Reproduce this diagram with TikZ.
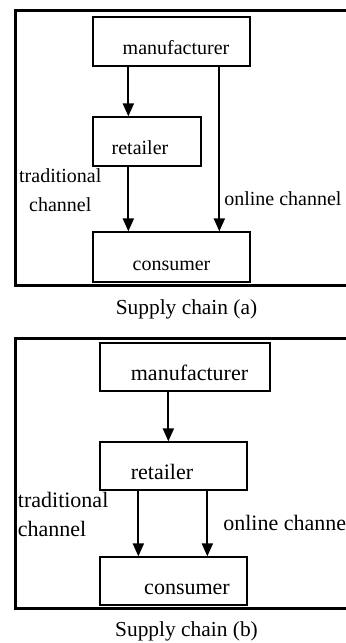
\documentclass[tikz,border=0pt]{standalone}
\usepackage{fontspec}
\setmainfont{Liberation Serif}
\usetikzlibrary{arrows.meta,positioning}
\begin{document}
\begin{tikzpicture}[x=0.5pt,y=-0.5pt,
                every node/.style = {inner sep=0pt},
                main/.style = {draw, rectangle, line width=0.65pt, text height=13pt, text depth=0pt},
                arr/.style = {line width=1pt, -{Triangle[length=6.5pt,width=5.5pt]}},
                frame/.style = {draw, line width=1.5pt}]
                \useasboundingbox (0,0) rectangle (346,643);
                % supply chain (a)
                \begin{scope}[font=\fontsize{10}{14.5}\selectfont]
                \draw[frame] (15,10) rectangle (352,285);
                \node[main, minimum width=78.5pt, minimum height=24.5pt] (a1) at (171.5,41.5) {\hspace*{4.5pt}manufacturer};
                \node[main, minimum width=54pt, minimum height=24.5pt] (a2) at (147,141.5) {retailer\hspace*{7pt}};
                \node[main, minimum width=78.5pt, minimum height=25pt] (a3) at (171.5,257) {consumer};
                \path[arr]
                    ([xshift=18pt]a1.south west) edge ([xshift=18pt]a2.north west)
                    ([xshift=18pt]a2.south west) edge node [left=13pt, pos=0.37, align=center] {traditional\\channel} ([xshift=18pt]a3.north west)
                    ([xshift=63.5pt]a1.south west) edge node [right=2pt, pos=0.8] {online channel} ([xshift=63.5pt]a3.north west);
                \end{scope}
                \node[font=\fontsize{10.7}{13}\selectfont] (capa) at (186.5,309.5) {Supply chain (a)};
                % supply chain (b)
                \begin{scope}[font=\fontsize{11}{14.5}\selectfont]
                \draw[frame] (15,338) rectangle (352,608);
                \node[main, minimum width=85pt, minimum height=24pt] (b1) at (185,367) {\hspace*{4.5pt}manufacturer};
                \node[main, minimum width=73.5pt, minimum height=24pt] (b2) at (173.5,466) {retailer\hspace*{11.5pt}};
                \node[main, minimum width=73.5pt, minimum height=24pt] (b3) at (173.5,581) {\hspace*{13.5pt}consumer};
                \path[arr]
                    ([xshift=34.5pt]b1.south west) edge ([xshift=34.5pt]b2.north west)
                    ([xshift=19.5pt]b2.south west) edge node [left=14.5pt, pos=0.37, align=left] {traditional\\channel} ([xshift=19.5pt]b3.north west)
                    ([xshift=54pt]b2.south west) edge node [right=7.5pt, pos=0.49] {online channel} ([xshift=54pt]b3.north west);
                \end{scope}
                \node[font=\fontsize{10.7}{13}\selectfont] (capb) at (186.5,631) {Supply chain (b)};
            \end{tikzpicture}
\end{document}
